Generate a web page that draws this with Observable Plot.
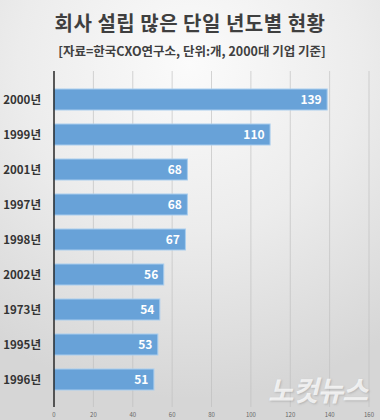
<!DOCTYPE html>
<html>
<head>
<meta charset="utf-8">
<script src="https://cdn.jsdelivr.net/npm/d3@7"></script>
<script src="https://cdn.jsdelivr.net/npm/@observablehq/plot@0.6"></script>
<style>
  html, body { margin: 0; padding: 0; }
  body {
    width: 380px; height: 420px; overflow: hidden; position: relative;
    background: radial-gradient(ellipse 90% 80% at 50% 15%, #fbfbfb 0%, #ececec 50%, #d6d6d6 100%);
    font-family: "Noto Sans CJK KR", "Noto Sans", sans-serif;
  }
  #title {
    position: absolute; left: 0; top: 8px; width: 380px; text-align: center;
    font-size: 20px; font-weight: bold; color: #3f3f3f; letter-spacing: 0.5px;
  }
  #subtitle {
    position: absolute; left: 0; top: 41px; width: 380px; text-align: center;
    font-size: 12.5px; font-weight: bold; color: #404040; padding-left: 4px; box-sizing: border-box;
  }
  #chart { position: absolute; left: 0; top: 62px; }
  #wm {
    position: absolute; left: 268px; top: 374px; font-size: 28px; line-height: 30px; font-weight: bold;
    color: rgba(255,255,255,0.75); font-style: italic; letter-spacing: -1px;
    text-shadow: 1px 1px 2px rgba(120,120,120,0.35);
  }
</style>
</head>
<body>
<div id="title">회사 설립 많은 단일 년도별 현황</div>
<div id="subtitle">[자료=한국CXO연구소, 단위:개, 2000대 기업 기준]</div>
<div id="chart"></div>
<div id="wm">노컷뉴스</div>
<script>
const years = ["2000년", "1999년", "2001년", "1997년", "1998년", "2002년", "1973년", "1995년", "1996년"];
const counts = [139, 110, 68, 68, 67, 56, 54, 53, 51];
const xTicks = [0, 20, 40, 60, 80, 100, 120, 140, 160];

const data = years.map((y, i) => ({year: y, count: counts[i]}));

const chart = Plot.plot({
  width: 380,
  height: 358,
  marginTop: 9,
  marginBottom: 13,
  marginLeft: 53.5,
  marginRight: 11.5,
  style: {background: "transparent", fontFamily: "'Noto Sans CJK KR', sans-serif"},
  x: {domain: [0, 160]},
  y: {domain: years, padding: 0.4},
  marks: [
    Plot.gridX(xTicks, {stroke: "#bdbdbd", strokeOpacity: 0.8, strokeWidth: 0.8}),
    Plot.barX(data, {x: "count", y: "year", fill: "#68a2d8", stroke: "#a9cdee", strokeWidth: 1}),
    Plot.ruleX([0], {stroke: "#2b2b2b", strokeWidth: 1.5}),
    Plot.text(data, {x: "count", y: "year", text: d => String(d.count), textAnchor: "end", dx: -6,
      fill: "white", fontSize: 12, fontWeight: "bold"}),
    Plot.axisX(xTicks, {tickSize: 0, tickPadding: 5, fontSize: 6, fill: "#666", label: null}),
    Plot.axisY({tickSize: 0, tickPadding: 13, fontSize: 11.5, fontWeight: "bold", fill: "#333", label: null})
  ]
});
document.getElementById("chart").appendChild(chart);
</script>
</body>
</html>
